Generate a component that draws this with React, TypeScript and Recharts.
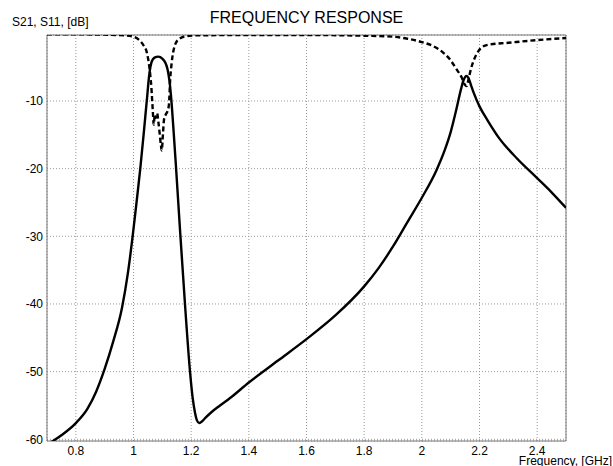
import { LineChart, Line, XAxis, YAxis, CartesianGrid, ReferenceArea } from "recharts";

// S21 (solid) - frequency in GHz, magnitude in dB
const s21Freq = [
  0.7, 0.75, 0.8, 0.84, 0.87, 0.9, 0.93, 0.96, 0.98, 0.997, 1.0105, 1.0235, 1.035, 1.046,
  1.055, 1.063, 1.073, 1.086, 1.1, 1.11, 1.118, 1.124, 1.13, 1.138, 1.147, 1.162, 1.179,
  1.196, 1.205, 1.213, 1.22, 1.228, 1.236, 1.25, 1.27, 1.3, 1.335, 1.4, 1.5, 1.6, 1.7,
  1.8, 1.85, 1.9, 1.95, 2.0, 2.05, 2.08, 2.1, 2.12, 2.135, 2.145, 2.155, 2.162, 2.17,
  2.18, 2.2, 2.23, 2.27, 2.33, 2.4, 2.45, 2.5,
];
const s21Db = [
  -60.8, -59.4, -57.6, -55.5, -53, -49.6, -45.5, -40.6, -35.6, -30, -25, -20, -15, -10,
  -6, -4.2, -3.6, -3.45, -3.75, -4.3, -5.3, -6.8, -9.2, -13.8, -19.5, -29.5, -40.3,
  -50, -53.8, -56, -57.2, -57.6, -57.4, -56.8, -56, -55, -53.9, -51.6, -48.4, -45.2, -41.7,
  -37.4, -34.7, -31.5, -27.9, -24.3, -20.3, -17.2, -14.6, -11.2, -8.4, -6.9, -6.3, -6.6, -7.6,
  -8.8, -10.8, -13, -15.6, -18.5, -21.4, -23.5, -25.8,
];

// S11 (dashed)
const s11Freq = [
  0.7, 0.8, 0.9, 0.97, 1.0, 1.02, 1.035, 1.046, 1.055, 1.062, 1.067, 1.07, 1.074,
  1.078, 1.082, 1.086, 1.09, 1.095, 1.098, 1.102, 1.106, 1.112, 1.118, 1.123, 1.127,
  1.132, 1.138, 1.146, 1.16, 1.18, 1.22, 1.4, 1.6, 1.8, 1.9, 1.95, 2.0, 2.04, 2.07,
  2.1, 2.12, 2.138, 2.148, 2.155, 2.162, 2.17, 2.18, 2.195, 2.21, 2.23, 2.3, 2.4, 2.5,
];
const s11Db = [
  -0.15, -0.15, -0.2, -0.3, -0.5, -1.0, -1.8, -2.8, -5, -8, -11.5, -13.5, -12,
  -12.5, -11.8, -13, -14.5, -16.5, -17.3, -15, -12.7, -12, -11.5, -10.5, -7,
  -4.5, -2.7, -1.5, -0.8, -0.45, -0.3, -0.25, -0.25, -0.35, -0.5, -0.8, -1.3, -1.9, -2.7,
  -4, -5.3, -6.5, -7.5, -7.8, -6.8, -5.3, -4, -2.7, -2, -1.7, -1.4, -1.0, -0.7,
];

const xTicks = [0.8, 1, 1.2, 1.4, 1.6, 1.8, 2, 2.2, 2.4];
const yTicks = [-60, -50, -40, -30, -20, -10];

const s21Data = s21Freq.map((f, i) => ({ f, v: s21Db[i] }));
const s11Data = s11Freq.map((f, i) => ({ f, v: s11Db[i] }));

const font = '"Liberation Sans", Arial, sans-serif';
const tickStyle = { fontSize: 12, fill: "#000", fontFamily: font };

export default function App() {
  return (
    <div style={{ position: "absolute", left: 0, top: 0, width: 613, height: 466, background: "#fff", fontFamily: font, overflow: "hidden" }}>
      <div style={{ position: "absolute", left: 12, top: 15, fontSize: 12, color: "#000" }}>S21, S11, [dB]</div>
      <div style={{ position: "absolute", left: 0, width: 613, top: 9, textAlign: "center", fontSize: 16, color: "#000" }}>
        FREQUENCY RESPONSE
      </div>
      <div style={{ position: "absolute", right: 1, top: 454, fontSize: 12, color: "#000", zIndex: 2 }}>Frequency, [GHz]</div>
      <LineChart width={613} height={466} margin={{ top: 35, right: 47, bottom: 0, left: 0 }}>
        <CartesianGrid stroke="#999" strokeDasharray="1 2" />
        <XAxis
          dataKey="f"
          type="number"
          domain={[0.7, 2.5]}
          ticks={xTicks}
          allowDataOverflow
          height={25}
          tick={tickStyle}
          tickLine={false}
          axisLine={false}
          tickSize={4}
          tickMargin={1}
        />
        <YAxis
          type="number"
          domain={[-60.25, -0.25]}
          ticks={yTicks}
          allowDataOverflow
          width={47}
          tick={tickStyle}
          tickLine={false}
          axisLine={false}
          tickSize={4}
          tickMargin={0}
        />
        <ReferenceArea x1={0.7} x2={2.5} y1={-60.25} y2={-0.25} fill="none" stroke="#777" strokeWidth={1} ifOverflow="visible" />
        <Line
          data={s11Data}
          dataKey="v"
          type="monotone"
          stroke="#000"
          strokeWidth={2.4}
          strokeDasharray="5 3"
          dot={false}
          isAnimationActive={false}
        />
        <Line
          data={s21Data}
          dataKey="v"
          type="monotone"
          stroke="#000"
          strokeWidth={2.4}
          dot={false}
          isAnimationActive={false}
        />
      </LineChart>
    </div>
  );
}
